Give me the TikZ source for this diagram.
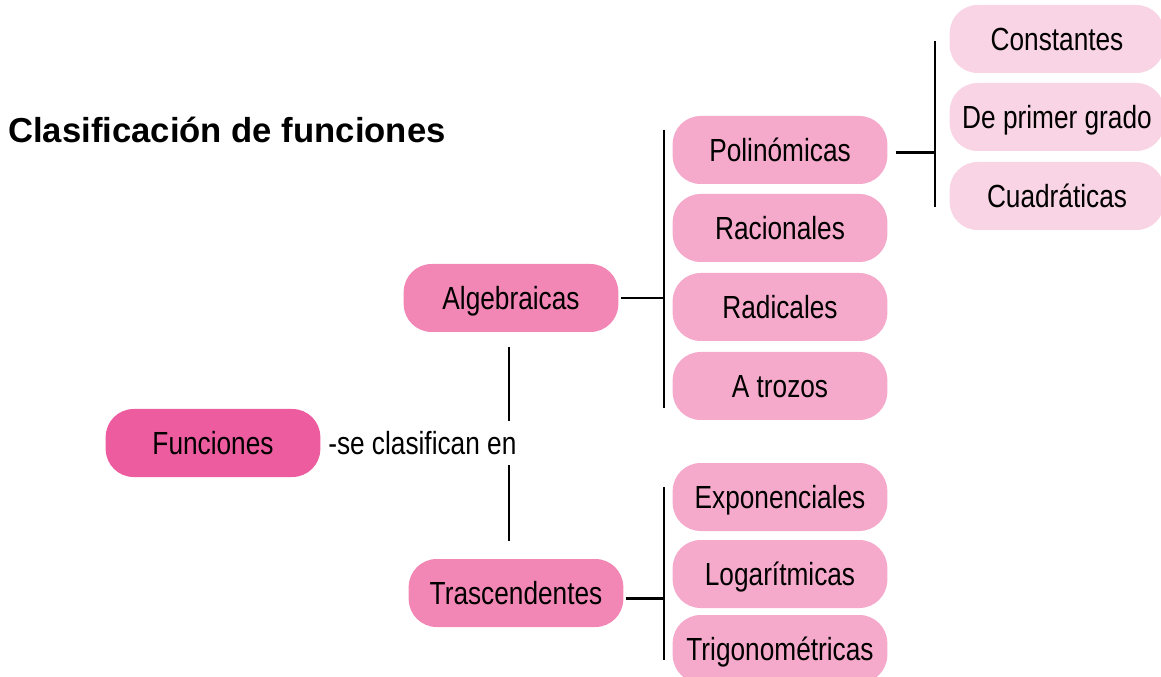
\documentclass[tikz,border=0pt]{standalone}
\usepackage{fontspec}
\setmainfont{Liberation Sans}
\newfontfamily\condfont{Liberation Sans}[FakeStretch=0.82]

\definecolor{rosaA}{RGB}{236,92,159}
\definecolor{rosaB}{RGB}{242,135,181}
\definecolor{rosaC}{RGB}{245,170,203}
\definecolor{rosaD}{RGB}{249,212,228}

\tikzset{
    box/.style={rounded corners=21pt, minimum width=161pt, minimum height=51pt,
        font=\condfont\fontsize{24}{28}\selectfont, text height=17.2pt, text depth=0pt},
    lvlA/.style={box, fill=rosaA},
    lvlB/.style={box, fill=rosaB},
    lvlC/.style={box, fill=rosaC},
    lvlD/.style={box, fill=rosaD},
    conn/.style={line width=2.2pt, black},
}

\begin{document}
\begin{tikzpicture}[x=0.75pt, y=-0.75pt]

    % Picture frame (pixel units, y downwards)
    \def\W{1161}
    \def\H{677}
    \def\xb{780}     % x of second column
    \def\xc{1057}    % x of third column
    \useasboundingbox (0,0) rectangle (\W,\H);
    \clip (0,0) rectangle (\W,\H);

    % Title
    \node[anchor=base west, inner sep=0pt, font=\bfseries\fontsize{26}{30}\selectfont] (title) at (8,143) {Clasificación de funciones};

    % Main nodes
    \node[lvlA] (fun) at (213,443) {Funciones};
    \node[anchor=west, inner sep=0pt, font=\condfont\fontsize{24}{28}\selectfont, text height=17.2pt, text depth=0pt] (sep) at (328,443) {-se clasifican en};
    \node[lvlB] (alg) at (511,298) {Algebraicas};
    \node[lvlB] (tra) at (516,593) {Trascendentes};

    % Second column
    \foreach \y/\nm/\txt in {150/pol/Polinómicas, 228/rac/Racionales, 307/rad/Radicales, 386/tro/A trozos,
                             497/exp/Exponenciales, 574/log/Logarítmicas, 649/tri/Trigonométricas}{
        \node[lvlC] (\nm) at (\xb,\y) {\txt};
    }

    % Third column
    \foreach \y/\nm/\txt in {39/con/Constantes, 117/pri/De primer grado, 196/cua/Cuadráticas}{
        \node[lvlD] (\nm) at (\xc,\y) {\txt};
    }

    % Brackets
    \coordinate (bAt) at (664,130);
    \coordinate (bAb) at (664,408);
    \coordinate (bTt) at (664,487);
    \coordinate (bTb) at (664,660);
    \coordinate (bPt) at (935,41);
    \coordinate (bPb) at (935,207);
    \coordinate (vAt) at (509,347);
    \coordinate (vTb) at (509,541);

    \draw[conn] (bAt) -- (bAb);
    \draw[conn] (bTt) -- (bTb);
    \draw[conn] (bPt) -- (bPb);
    \draw[conn] ([xshift=2pt]alg.east) -- (alg.east -| bAt);
    \draw[conn] ([xshift=2pt,yshift=-4pt]tra.east) -- ([yshift=-4pt]tra.east -| bTt);
    \draw[conn] ([xshift=6pt,yshift=-2pt]pol.east) -- ([yshift=-2pt]pol.east -| bPt);

    % Funciones -> Algebraicas / Trascendentes
    \draw[conn] (vAt) -- ([yshift=8pt]sep.north -| vAt);
    \draw[conn] ([yshift=-8pt]sep.south -| vTb) -- (vTb);

\end{tikzpicture}
\end{document}
